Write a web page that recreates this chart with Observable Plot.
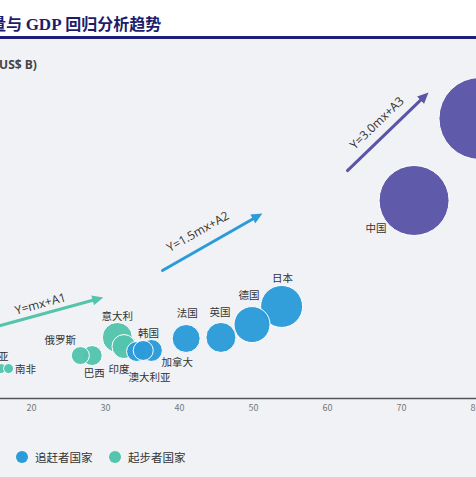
<!DOCTYPE html>
<html><head><meta charset="utf-8">
<script src="https://cdn.jsdelivr.net/npm/d3@7"></script>
<script src="https://cdn.jsdelivr.net/npm/@observablehq/plot@0.6"></script>
<style>
html,body{margin:0;padding:0;width:476px;height:477px;overflow:hidden;background:#f1f2f5;font-family:"Noto Sans CJK SC","Noto Sans",sans-serif;}
#head{position:absolute;left:0;top:0;width:476px;height:37px;background:#fff;}
#rule{position:absolute;left:0;top:36px;width:476px;height:3px;background:#1f1f7a;}
#title{position:absolute;left:-10px;top:13px;font-size:16px;line-height:20px;font-weight:700;color:#1d1d6b;white-space:nowrap;}
#title .lat{font-family:"Liberation Serif","DejaVu Serif",serif;font-size:17px;}
#ylab{position:absolute;left:-5px;top:56px;font-size:12px;font-weight:700;color:#444;font-family:"Open Sans","Noto Sans",sans-serif;white-space:nowrap;}
#chart{position:absolute;left:0;top:40px;}
#legend{position:absolute;left:16px;top:448px;font-size:11.5px;color:#333;white-space:nowrap;}
.item{position:absolute;top:0;display:flex;align-items:center;height:18px;}
.dot{width:12px;height:12px;border-radius:50%;margin-right:7px;}
</style></head>
<body>
<div id="head"></div>
<div id="rule"></div>
<div id="title">量与 <span class="lat">GDP</span> 回归分析趋势</div>
<div id="ylab">(US$ B)</div>
<div id="chart"></div>
<div id="legend"></div>
<script>
// ---- data ----
const countries = ["印度尼西亚","南非","俄罗斯","巴西","意大利","印度","澳大利亚","加拿大","韩国","法国","英国","德国","日本","中国","美国"];
const groupOf   = ["起步者国家","起步者国家","起步者国家","起步者国家","起步者国家","起步者国家","追赶者国家","追赶者国家","追赶者国家","追赶者国家","追赶者国家","追赶者国家","追赶者国家","领先者国家","领先者国家"];
const xValue    = [15.9,16.9,26.6,28.2,31.6,32.5,34.2,35.1,36.2,40.9,45.6,49.8,53.8,71.7,80.6];
const gdpValue  = [2300,2300,3300,3300,4690,3990,3610,3690,3690,4610,4690,5680,7070,15210,21510];
const bubbleSize= [25,25,82,101,228,146,101,101,122,198,228,328,446,1239,1700];
const xTicks = [20,30,40,50,60,70,80];
const groups = ["追赶者国家","起步者国家","领先者国家"];
const legendGroups = ["追赶者国家","起步者国家"];
const trendLabels = ["Y=mx+A1","Y=1.5mx+A2","Y=3.0mx+A3"];
const trendGroup  = ["起步者国家","追赶者国家","领先者国家"];
const trendX1 = [13.8,37.7,62.7];
const trendY1 = [5300,9830,17510];
const trendX2 = [29.7,51.2,73.65];
const trendY2 = [7760,14210,23510];
const trendLabelX = [21.2,42.5,66.7];
const trendLabelY = [7250,12800,21150];

// ---- layout / style ----
const colors = ["#2b9bd9","#55c4ad","#5a55a6"];
const W = 476, H = 385, mB = 27;
const xRange = [31,475], yDomain = [0,27500];
const labelOffset = {
  "印度尼西亚":[-19,-12],"南非":[17,1],"俄罗斯":[-20,-15],"巴西":[2,18],"意大利":[0,-21],
  "印度":[-5,23],"澳大利亚":[13,26],"加拿大":[34,12],"韩国":[-3,-17],"法国":[1,-25],
  "英国":[-1,-25],"德国":[-3,-29],"日本":[1,-28],"中国":[-38,28]
};

const kx = (xRange[1]-xRange[0])/(xTicks[xTicks.length-1]-xTicks[0]);
const ky = (H-mB)/(yDomain[1]-yDomain[0]);
const trendIdx = trendLabels.map((_,i)=>i);
const trendAngle = trendIdx.map(i => -Math.atan2((trendY2[i]-trendY1[i])*ky,(trendX2[i]-trendX1[i])*kx)*180/Math.PI);

const idx = countries.map((_,i)=>i).sort((a,b)=>xValue[a]-xValue[b]);

const labelMarks = countries.map((c,i)=>labelOffset[c] ? Plot.text([i],{
  x:d=>xValue[d], y:d=>gdpValue[d], text:d=>countries[d],
  dx:labelOffset[c][0], dy:labelOffset[c][1], fontSize:10.5, fill:"#333"
}) : null).filter(Boolean);

const chart = Plot.plot({
  width:W, height:H, marginLeft:0, marginRight:0, marginTop:0, marginBottom:mB,
  style:{background:"transparent", fontFamily:"'Noto Sans CJK SC','Noto Sans',sans-serif", color:"#777", fontSize:"9px", overflow:"visible"},
  x:{domain:[xTicks[0],xTicks[xTicks.length-1]], range:xRange, ticks:xTicks, tickSize:0, tickPadding:6, label:null, tickFormat:d=>String(d)},
  y:{domain:yDomain, axis:null},
  r:{domain:[0,1700], range:[0,41]},
  color:{domain:groups, range:colors},
  marks:[
    Plot.ruleY([0],{stroke:"#555", strokeWidth:1.5}),
    Plot.arrow(trendIdx,{x1:d=>trendX1[d], y1:d=>trendY1[d], x2:d=>trendX2[d], y2:d=>trendY2[d],
      stroke:d=>trendGroup[d], strokeWidth:3, headLength:0, insetEnd:7}),
    Plot.vector(trendIdx,{x:d=>trendX2[d], y:d=>trendY2[d], rotate:d=>90+trendAngle[d],
      length:11, r:5, shape:"spike", anchor:"end", fill:d=>trendGroup[d], stroke:"none"}),
    Plot.text(trendIdx,{x:d=>trendLabelX[d], y:d=>trendLabelY[d], text:d=>trendLabels[d],
      rotate:d=>trendAngle[d], fontSize:12, fill:"#333", fontFamily:"'Open Sans','Noto Sans',sans-serif"}),
    Plot.dot(idx,{x:d=>xValue[d], y:d=>gdpValue[d], r:d=>bubbleSize[d], fill:d=>groupOf[d],
      stroke:"#fff", strokeWidth:1, fillOpacity:0.97}),
    ...labelMarks
  ]
});
document.getElementById("chart").appendChild(chart);

const leg = document.getElementById("legend");
const legX = [0,93];
legendGroups.forEach((g,i)=>{
  const it = document.createElement("div");
  it.className="item"; it.style.left = legX[i]+"px";
  const dt = document.createElement("span");
  dt.className="dot"; dt.style.background = colors[groups.indexOf(g)];
  it.appendChild(dt);
  const t = document.createElement("span"); t.textContent = g;
  it.appendChild(t);
  leg.appendChild(it);
});
</script>
</body></html>
